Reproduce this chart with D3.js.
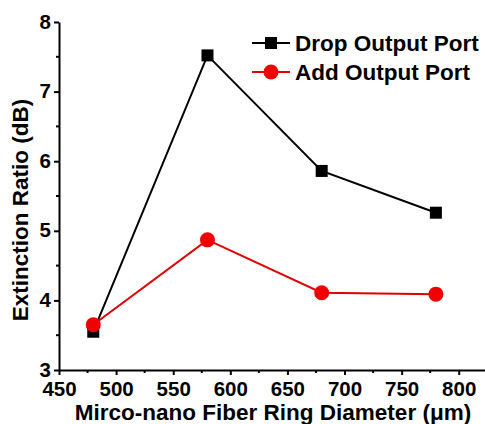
<!DOCTYPE html>
<html><head><meta charset="utf-8">
<script src="https://cdn.jsdelivr.net/npm/d3@7"></script>
<style>body{margin:0;background:#fff}svg{display:block}text{font-family:"Liberation Sans",Arial,sans-serif;font-weight:bold}</style>
</head><body>
<script>
const diameters = [480, 580, 680, 780];
const dropPort = [3.55, 7.52, 5.86, 5.26];
const addPort = [3.65, 4.87, 4.11, 4.09];
const xTicks = [450, 500, 550, 600, 650, 700, 750, 800];
const yTicks = [3, 4, 5, 6, 7, 8];
const seriesNames = ["Drop Output Port", "Add Output Port"];

const W = 485, H = 424;
const FS = 22.5, TFS = 20.5;
const svg = d3.select("body").append("svg").attr("width", W).attr("height", H);
const x = d3.scaleLinear().domain([450, 823]).range([59, 485]);
const y = d3.scaleLinear().domain([3, 8]).range([370, 22]);

// minor ticks
const minorX = d3.range(475, 825, 50);
const minorY = d3.range(3.5, 8, 1);
svg.append("g").selectAll("line").data(minorX).join("line")
  .attr("x1", d => x(d)).attr("x2", d => x(d)).attr("y1", y(3)).attr("y2", y(3) + 3)
  .attr("stroke", "#000").attr("stroke-width", 2);
svg.append("g").selectAll("line").data(minorY).join("line")
  .attr("y1", d => y(d)).attr("y2", d => y(d)).attr("x1", x(450)).attr("x2", x(450) - 3)
  .attr("stroke", "#000").attr("stroke-width", 2);

const xAxis = svg.append("g").attr("transform", `translate(0,${y(3)})`)
  .call(d3.axisBottom(x).tickValues(xTicks).tickFormat(d3.format("d")).tickSize(5).tickSizeOuter(0).tickPadding(6));
const yAxis = svg.append("g").attr("transform", `translate(${x(450)},0)`)
  .call(d3.axisLeft(y).tickValues(yTicks).tickFormat(d3.format("d")).tickSize(5).tickSizeOuter(0).tickPadding(3));
[xAxis, yAxis].forEach(a => {
  a.select(".domain").attr("stroke-width", 2);
  a.selectAll(".tick line").attr("stroke-width", 2);
  a.selectAll("text").attr("font-size", TFS).attr("font-family", "Liberation Sans, Arial, sans-serif").attr("font-weight", "bold").attr("fill", "#000");
});
yAxis.selectAll("text").attr("dy", "0.3em");

svg.append("text").attr("x", 273).attr("y", 419.5).attr("text-anchor", "middle")
  .attr("font-size", FS).text("Mirco-nano Fiber Ring Diameter (μm)");
svg.append("text").attr("transform", "translate(28,210) rotate(-90)").attr("text-anchor", "middle")
  .attr("font-size", FS).text("Extinction Ratio (dB)");

const line = d3.line().x(d => x(d[0])).y(d => y(d[1]));
const drop = diameters.map((d, i) => [d, dropPort[i]]);
const add = diameters.map((d, i) => [d, addPort[i]]);

svg.append("path").datum(drop).attr("d", line).attr("fill", "none").attr("stroke", "#000").attr("stroke-width", 2);
svg.append("g").selectAll("rect").data(drop).join("rect")
  .attr("x", d => x(d[0]) - 6).attr("y", d => y(d[1]) - 6).attr("width", 12).attr("height", 12).attr("fill", "#000");
svg.append("path").datum(add).attr("d", line).attr("fill", "none").attr("stroke", "#e00000").attr("stroke-width", 2);
svg.append("g").selectAll("circle").data(add).join("circle")
  .attr("cx", d => x(d[0])).attr("cy", d => y(d[1])).attr("r", 7.5).attr("fill", "#f00000");

// legend
const lg = svg.append("g");
const ly = [43, 72];
lg.append("line").attr("x1", 252).attr("x2", 290).attr("y1", ly[0]).attr("y2", ly[0]).attr("stroke", "#000").attr("stroke-width", 2);
lg.append("rect").attr("x", 265).attr("y", ly[0] - 6).attr("width", 12).attr("height", 12).attr("fill", "#000");
lg.append("line").attr("x1", 252).attr("x2", 290).attr("y1", ly[1]).attr("y2", ly[1]).attr("stroke", "#e00000").attr("stroke-width", 2);
lg.append("circle").attr("cx", 271).attr("cy", ly[1]).attr("r", 7.5).attr("fill", "#f00000");
seriesNames.forEach((n, i) => {
  lg.append("text").attr("x", 295).attr("y", ly[i]).attr("dy", "0.36em").attr("font-size", FS).text(n);
});
</script>
</body></html>
